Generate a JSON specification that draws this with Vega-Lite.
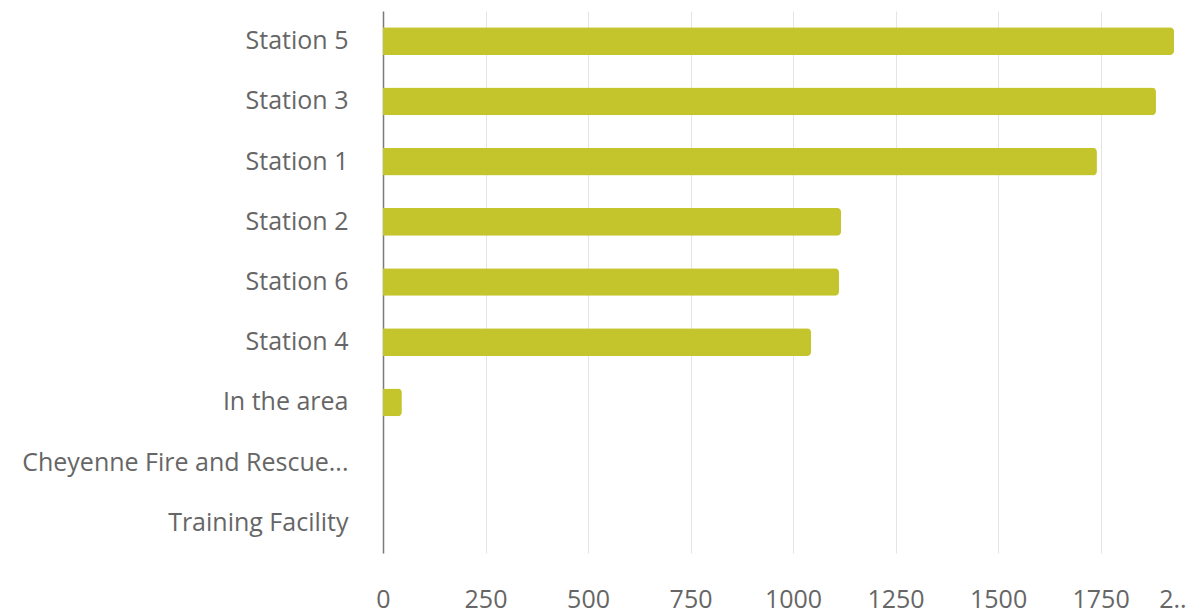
{
  "$schema": "https://vega.github.io/schema/vega-lite/v6.json",
  "autosize": {"type": "none"},
  "padding": {"left": 383, "top": 11, "right": 0, "bottom": 62},
  "width": 807,
  "height": 542,
  "background": "white",
  "data": {
    "values": [
      {"station": "Station 5", "count": 1929},
      {"station": "Station 3", "count": 1885},
      {"station": "Station 1", "count": 1741},
      {"station": "Station 2", "count": 1117},
      {"station": "Station 6", "count": 1112},
      {"station": "Station 4", "count": 1044},
      {"station": "In the area", "count": 46},
      {"station": "Cheyenne Fire and Rescue...", "count": 0},
      {"station": "Training Facility", "count": 0}
    ]
  },
  "mark": {"type": "bar", "color": "#C4C52C", "cornerRadiusEnd": 4},
  "encoding": {
    "y": {
      "field": "station",
      "type": "nominal",
      "sort": ["Station 5", "Station 3", "Station 1", "Station 2", "Station 6", "Station 4", "In the area", "Cheyenne Fire and Rescue...", "Training Facility"],
      "scale": {"paddingInner": 0.54, "paddingOuter": 0.27},
      "axis": {
        "title": null,
        "ticks": false,
        "grid": false,
        "domain": true,
        "domainColor": "#7a7a7a",
        "domainWidth": 1.5,
        "labelFont": "Open Sans",
        "labelFontSize": 25,
        "labelColor": "#666666",
        "labelPadding": 35,
        "labelLimit": 420
      }
    },
    "x": {
      "field": "count",
      "type": "quantitative",
      "scale": {"domain": [0, 1968], "nice": false},
      "axis": {
        "title": null,
        "values": [0, 250, 500, 750, 1000, 1250, 1500, 1750, 1925],
        "labelExpr": "datum.value > 1800 ? '2..' : datum.label",
        "format": "d",
        "ticks": false,
        "domain": false,
        "grid": true,
        "gridColor": "#e4e4e4",
        "gridOpacity": {"condition": {"test": "datum.value > 1800", "value": 0}, "value": 1},
        "labelFont": "Open Sans",
        "labelFontSize": 25,
        "labelColor": "#666666",
        "labelPadding": 34,
        "labelFlush": false
      }
    }
  },
  "config": {"view": {"stroke": null}}
}
